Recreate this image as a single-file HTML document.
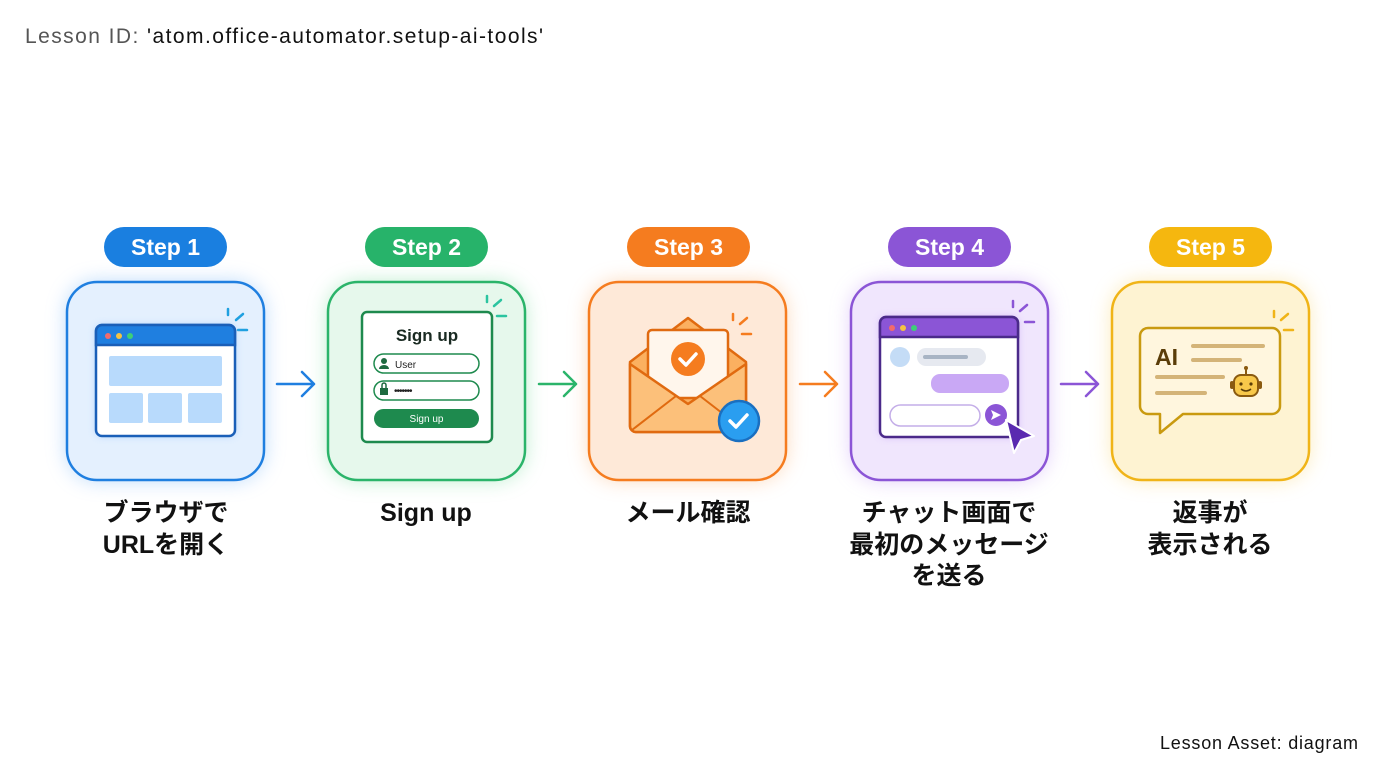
<!DOCTYPE html>
<html><head><meta charset="utf-8"><style>
body{margin:0;width:1376px;height:768px;background:#fff;overflow:hidden;font-family:"Liberation Sans","Noto Sans CJK JP",sans-serif}
svg text{font-family:"Liberation Sans","Noto Sans CJK JP",sans-serif}
</style></head><body>
<svg width="1376" height="768" viewBox="0 0 1376 768" xmlns="http://www.w3.org/2000/svg">
<defs>
<filter id="g" x="-30%" y="-30%" width="160%" height="160%"><feGaussianBlur stdDeviation="10"/></filter>
<filter id="s" x="-20%" y="-20%" width="140%" height="140%"><feGaussianBlur stdDeviation="4"/></filter>
</defs>
<text x="25" y="43" font-size="21" fill="#555" textLength="518" lengthAdjust="spacing">Lesson ID: <tspan fill="#111">'atom.office-automator.setup-ai-tools'</tspan></text>
<text x="1160" y="749" font-size="18" fill="#111" textLength="198" lengthAdjust="spacing">Lesson Asset: diagram</text>

<!-- Glows -->
<rect x="67" y="282" width="197" height="198" rx="30" fill="#9cc9fb" filter="url(#g)" opacity=".7"/>
<rect x="328" y="282" width="197" height="198" rx="30" fill="#9fe6b9" filter="url(#g)" opacity=".7"/>
<rect x="589" y="282" width="197" height="198" rx="30" fill="#fcc79c" filter="url(#g)" opacity=".7"/>
<rect x="851" y="282" width="197" height="198" rx="30" fill="#d4b8f7" filter="url(#g)" opacity=".7"/>
<rect x="1112" y="282" width="197" height="198" rx="30" fill="#fbe19a" filter="url(#g)" opacity=".7"/>

<!-- Boxes -->
<rect x="67" y="282" width="197" height="198" rx="30" fill="#e4f0fe" stroke="#1f7fe0" stroke-width="2.5"/>
<rect x="328" y="282" width="197" height="198" rx="30" fill="#e6f8ec" stroke="#2bb46a" stroke-width="2.5"/>
<rect x="589" y="282" width="197" height="198" rx="30" fill="#fee9d8" stroke="#f57c1f" stroke-width="2.5"/>
<rect x="851" y="282" width="197" height="198" rx="30" fill="#f0e6fd" stroke="#8b55d6" stroke-width="2.5"/>
<rect x="1112" y="282" width="197" height="198" rx="30" fill="#fef3d2" stroke="#f0b418" stroke-width="2.5"/>

<!-- Pills -->
<g font-size="23" font-weight="bold" fill="#fff" text-anchor="middle">
<rect x="104" y="227" width="123" height="40" rx="20" fill="#1a7fe0"/><text x="165.5" y="255">Step 1</text>
<rect x="365" y="227" width="123" height="40" rx="20" fill="#27b36a"/><text x="426.5" y="255">Step 2</text>
<rect x="627" y="227" width="123" height="40" rx="20" fill="#f57c1f"/><text x="688.5" y="255">Step 3</text>
<rect x="888" y="227" width="123" height="40" rx="20" fill="#8b55d6"/><text x="949.5" y="255">Step 4</text>
<rect x="1149" y="227" width="123" height="40" rx="20" fill="#f5b70f"/><text x="1210.5" y="255">Step 5</text>
</g>

<!-- Arrows -->
<g fill="none" stroke-width="2.5" stroke-linecap="round" stroke-linejoin="round">
<path d="M277 384H314M302 372L314 384L302 396" stroke="#1f7fe0"/>
<path d="M539 384H576M564 372L576 384L564 396" stroke="#2bb46a"/>
<path d="M800 384H837M825 372L837 384L825 396" stroke="#f57c1f"/>
<path d="M1061 384H1098M1086 372L1098 384L1086 396" stroke="#8b55d6"/>
</g>

<!-- sparkles -->
<g stroke-width="2.5" stroke-linecap="round" fill="none">
<path d="M228 309v6M236 320l7-6M238 330h9" stroke="#1fa0e0"/>
<path d="M487 296v6M494 306l7-6M497 316h9" stroke="#2bc4a0"/>
<path d="M733 314v6M740 324l7-6M742 334h9" stroke="#f57c1f"/>
<path d="M1013 301v6M1020 311l7-6M1025 322h9" stroke="#8b55d6"/>
<path d="M1274 311v6M1281 320l7-6M1284 330h9" stroke="#f0b418"/>
</g>

<!-- Icon 1 browser -->
<rect x="96" y="325" width="139" height="111" rx="6" fill="#9cc9fb" filter="url(#s)" opacity=".8"/>
<rect x="96" y="325" width="139" height="111" rx="6" fill="#fff" stroke="#1a5fb8" stroke-width="2.5"/>
<path d="M96 345V331a6 6 0 0 1 6-6h127a6 6 0 0 1 6 6v14z" fill="#1f7fe0" stroke="#1a5fb8" stroke-width="2.5"/>
<circle cx="108" cy="336" r="3" fill="#f26b6b"/><circle cx="119" cy="336" r="3" fill="#f5c242"/><circle cx="130" cy="336" r="3" fill="#3ecf78"/>
<rect x="109" y="356" width="113" height="30" rx="2" fill="#b8dafc"/>
<rect x="109" y="393" width="34" height="30" rx="2" fill="#b8dafc"/>
<rect x="148" y="393" width="34" height="30" rx="2" fill="#b8dafc"/>
<rect x="188" y="393" width="34" height="30" rx="2" fill="#b8dafc"/>

<!-- Icon 2 signup -->
<rect x="362" y="312" width="130" height="130" rx="5" fill="#fff" stroke="#1e8a4e" stroke-width="2.5"/>
<text x="427" y="341" font-size="17" font-weight="bold" text-anchor="middle" fill="#1a2a22">Sign up</text>
<rect x="374" y="354" width="105" height="19" rx="9.5" fill="#fff" stroke="#1e8a4e" stroke-width="1.5"/>
<circle cx="384" cy="361" r="3" fill="#1e6a40"/><path d="M379 369a5 4 0 0 1 10 0z" fill="#1e6a40"/>
<text x="395" y="368" font-size="10" fill="#222">User</text>
<rect x="374" y="381" width="105" height="19" rx="9.5" fill="#fff" stroke="#1e8a4e" stroke-width="1.5"/>
<rect x="380" y="388" width="8" height="7" fill="#1e6a40"/><path d="M382 388v-3a2 2 0 0 1 4 0v3" stroke="#1e6a40" fill="none" stroke-width="1.5"/>
<text x="394" y="394" font-size="10" fill="#222" letter-spacing="-1">•••••••</text>
<rect x="374" y="409" width="105" height="19" rx="9.5" fill="#1e8a4e"/>
<text x="426.5" y="422" font-size="10" fill="#fff" text-anchor="middle">Sign up</text>

<!-- Icon 3 envelope -->
<path d="M630 362L688 318L746 362V426a6 6 0 0 1-6 6H636a6 6 0 0 1-6-6z" fill="#fbb060" stroke="#e06a10" stroke-width="2.5" stroke-linejoin="round"/>
<rect x="648" y="330" width="80" height="68" rx="4" fill="#fff6ec" stroke="#e06a10" stroke-width="2.5"/>
<circle cx="688" cy="359" r="17" fill="#f57c1f"/>
<path d="M680 359l6 6 10-11" stroke="#fff" stroke-width="3.5" fill="none" stroke-linecap="round" stroke-linejoin="round"/>
<path d="M630 364L688 404L746 364V426a6 6 0 0 1-6 6H636a6 6 0 0 1-6-6z" fill="#fcc07a" stroke="#e06a10" stroke-width="2.5" stroke-linejoin="round"/>
<path d="M632 430L676 396M744 430L700 396" stroke="#e06a10" stroke-width="2"/>
<circle cx="739" cy="421" r="20" fill="#2a9ef0" stroke="#1a6fc0" stroke-width="2.5"/>
<path d="M730 421l6 6 11-12" stroke="#fff" stroke-width="3.5" fill="none" stroke-linecap="round" stroke-linejoin="round"/>

<!-- Icon 4 chat -->
<rect x="880" y="317" width="138" height="120" rx="6" fill="#c9a8f5" filter="url(#s)" opacity=".8"/>
<rect x="880" y="317" width="138" height="120" rx="6" fill="#fff" stroke="#4b2a8a" stroke-width="2.5"/>
<path d="M880 337V323a6 6 0 0 1 6-6h126a6 6 0 0 1 6 6v14z" fill="#8b55d6" stroke="#4b2a8a" stroke-width="2.5"/>
<circle cx="892" cy="328" r="3" fill="#f26b6b"/><circle cx="903" cy="328" r="3" fill="#f5c242"/><circle cx="914" cy="328" r="3" fill="#3ecf78"/>
<circle cx="900" cy="357" r="10" fill="#c4dcf6"/>
<rect x="917" y="348" width="69" height="18" rx="9" fill="#e6e9f0"/>
<rect x="923" y="355" width="45" height="4" rx="2" fill="#a8b4c4"/>
<rect x="931" y="374" width="78" height="19" rx="9" fill="#c9a8f5"/>
<rect x="890" y="405" width="90" height="21" rx="10.5" fill="#fff" stroke="#c4aee8" stroke-width="1.5"/>
<circle cx="996" cy="415" r="11" fill="#8b55d6"/>
<path d="M991 410l10 5-10 5 2-5z" fill="#fff"/>
<path d="M1006 420L1034 436L1021 440L1014 453z" fill="#5a2ab0" stroke="#fff" stroke-width="2" stroke-linejoin="round"/>

<!-- Icon 5 AI -->
<path d="M1148 328h124a8 8 0 0 1 8 8v70a8 8 0 0 1-8 8H1183L1160 433V414h-12a8 8 0 0 1-8-8V336a8 8 0 0 1 8-8z" fill="#fff6de" stroke="#c99a10" stroke-width="2.5" stroke-linejoin="round"/>
<text x="1155" y="365" font-size="23" font-weight="bold" fill="#5a3d08">AI</text>
<g stroke="#d4b478" stroke-width="4" stroke-linecap="round">
<path d="M1193 346h70M1193 360h47M1157 377h66M1157 393h48"/>
</g>
<rect x="1234" y="375" width="24" height="21" rx="7" fill="#f8c84a" stroke="#8a5a10" stroke-width="2"/>
<path d="M1246 375v-6" stroke="#8a5a10" stroke-width="2"/><circle cx="1246" cy="368" r="2" fill="#8a5a10"/>
<circle cx="1241" cy="384" r="1.6" fill="#5a3d08"/><circle cx="1251" cy="384" r="1.6" fill="#5a3d08"/>
<path d="M1241 389q5 4 10 0" stroke="#5a3d08" stroke-width="1.5" fill="none"/>
<rect x="1230" y="381" width="4" height="8" rx="2" fill="#8a5a10"/><rect x="1258" y="381" width="4" height="8" rx="2" fill="#8a5a10"/>

<!-- Labels -->
<g font-size="25" font-weight="bold" fill="#111" text-anchor="middle">
<text x="166" y="521">ブラウザで</text><text x="166" y="553">URLを開く</text>
<text x="426" y="521">Sign up</text>
<text x="688" y="521">メール確認</text>
<text x="949" y="521">チャット画面で</text><text x="949" y="553">最初のメッセージ</text><text x="949" y="584">を送る</text>
<text x="1210" y="521">返事が</text><text x="1210" y="553">表示される</text>
</g>
</svg>
</body></html>
